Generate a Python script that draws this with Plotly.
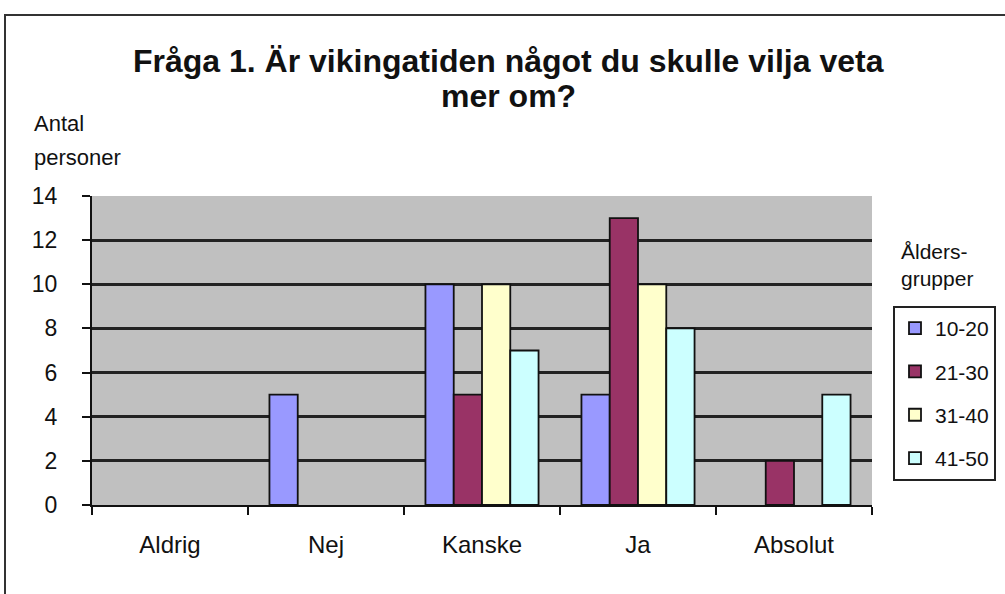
import plotly.graph_objects as go

categories = ["Aldrig", "Nej", "Kanske", "Ja", "Absolut"]
series_names = ["10-20", "21-30", "31-40", "41-50"]
v_10_20 = [0, 5, 10, 5, 0]
v_21_30 = [0, 0, 5, 13, 2]
v_31_40 = [0, 0, 10, 10, 0]
v_41_50 = [0, 0, 7, 8, 5]
series_values = [v_10_20, v_21_30, v_31_40, v_41_50]
colors = ["#9999FF", "#993366", "#FFFFCC", "#CCFFFF"]
y_ticks = [0, 2, 4, 6, 8, 10, 12, 14]

FONT = "Liberation Sans, Arial, sans-serif"

fig = go.Figure()
for name, vals, col in zip(series_names, series_values, colors):
    fig.add_trace(go.Bar(
        x=categories, y=[v if v != 0 else None for v in vals], name=name,
        legendgroup=name,
        marker=dict(color=col, line=dict(color="#111111", width=1.8)),
    ))

W, H = 1005, 594
L, R, T, B = 92, 872, 196, 505
pw, ph = R - L, B - T

def px_x(x):
    return (x - L) / pw

def px_y(y):
    return (B - y) / ph

fig.update_layout(
    width=W, height=H,
    margin=dict(l=L, r=W - R, t=T, b=H - B, autoexpand=False),
    paper_bgcolor="white",
    plot_bgcolor="#C0C0C0",
    barmode="group",
    bargap=0.275,
    bargroupgap=0,
    font=dict(family=FONT, size=21, color="#111111"),
    showlegend=True,
    legend=dict(
        x=px_x(893), y=px_y(306), xanchor="left", yanchor="top",
        bordercolor="#222222", borderwidth=2, bgcolor="white",
        font=dict(family=FONT, size=21, color="#111111"),
        itemwidth=30, tracegroupgap=13,
    ),
    xaxis=dict(
        showline=True, linecolor="#111111", linewidth=2,
        ticks="outside", tickson="boundaries", ticklen=8, tickcolor="#111111", tickwidth=1.5,
        showgrid=False, ticklabelstandoff=17, automargin=False,
        tickfont=dict(family=FONT, size=24, color="#111111"),
        fixedrange=True,
    ),
    yaxis=dict(
        range=[0, 14], tickvals=y_ticks,
        showline=True, linecolor="#111111", linewidth=2,
        ticks="outside", ticklen=8, tickcolor="#111111", tickwidth=1.5,
        showgrid=True, gridcolor="#222222", gridwidth=2.5,
        zeroline=False, ticklabelstandoff=20, automargin=False,
        tickfont=dict(family=FONT, size=23, color="#111111"),
        fixedrange=True,
    ),
)

fig.add_annotation(
    text="<b>Fråga 1. Är vikingatiden något du skulle vilja veta</b>",
    xref="paper", yref="paper", x=px_x(508), y=px_y(61),
    xanchor="center", yanchor="middle", showarrow=False,
    font=dict(family=FONT, size=32, color="#111111"),
)
fig.add_annotation(
    text="<b>mer om?</b>",
    xref="paper", yref="paper", x=px_x(508), y=px_y(96),
    xanchor="center", yanchor="middle", showarrow=False,
    font=dict(family=FONT, size=32, color="#111111"),
)
fig.add_annotation(
    text="Antal",
    xref="paper", yref="paper", x=px_x(32), y=px_y(123),
    xanchor="left", yanchor="middle", showarrow=False,
    font=dict(family=FONT, size=22, color="#111111"),
)
fig.add_annotation(
    text="personer",
    xref="paper", yref="paper", x=px_x(32), y=px_y(157),
    xanchor="left", yanchor="middle", showarrow=False,
    font=dict(family=FONT, size=22, color="#111111"),
)
fig.add_annotation(
    text="Ålders-<br>grupper",
    xref="paper", yref="paper", x=px_x(899), y=px_y(265),
    xanchor="left", yanchor="middle", showarrow=False,
    font=dict(family=FONT, size=21, color="#111111"), align="left",
)

fig.add_shape(
    type="rect", xref="paper", yref="paper",
    x0=px_x(5), x1=px_x(1020), y0=px_y(620), y1=px_y(15),
    line=dict(color="#333333", width=2), fillcolor="rgba(0,0,0,0)", layer="below",
)

fig.write_html(
    "out.html",
    config={"displayModeBar": False},
    post_script="document.body.style.margin='0';document.body.style.overflow='hidden';",
)
